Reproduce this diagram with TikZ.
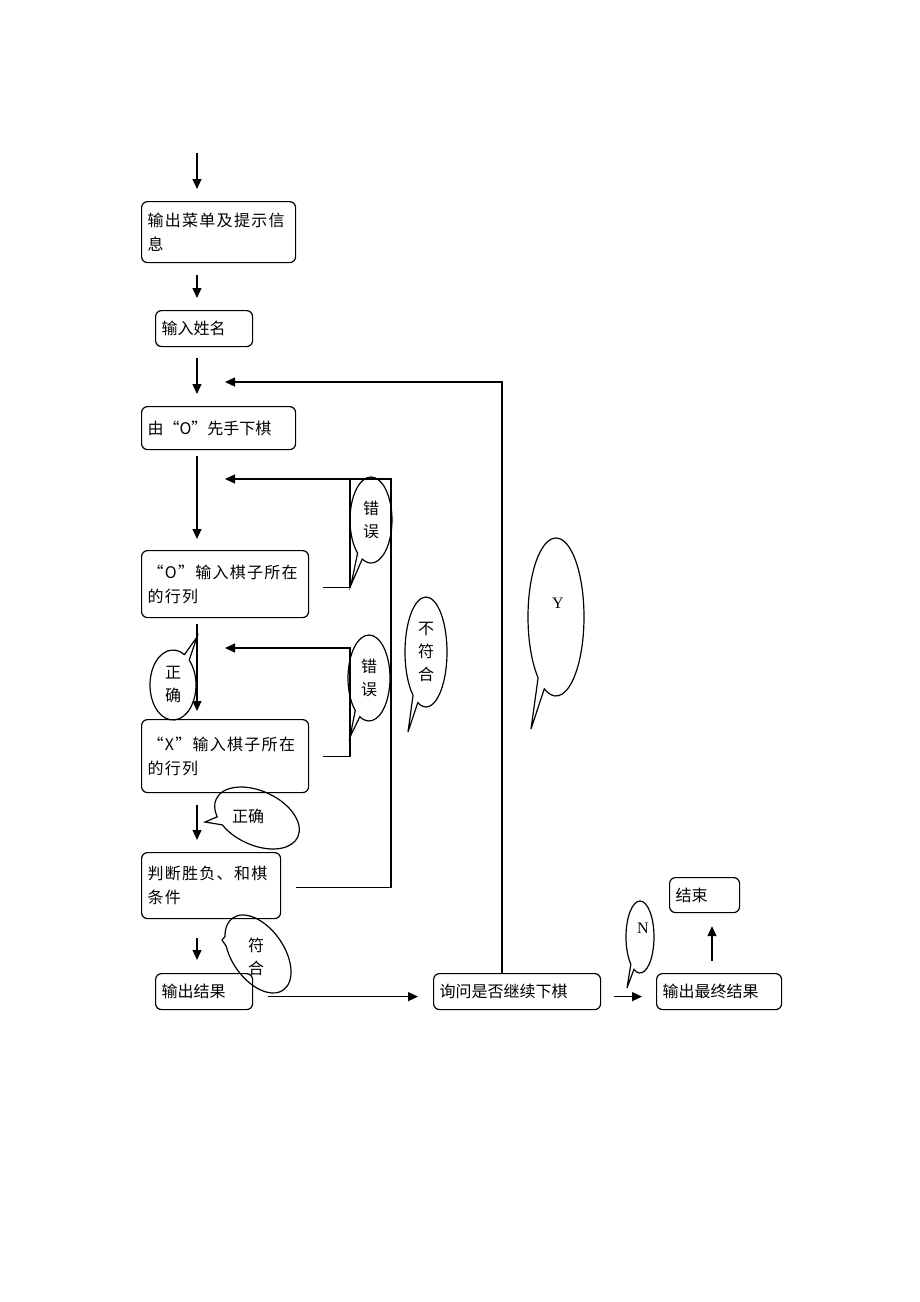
\documentclass[tikz,border=0pt]{standalone}
\usepackage{fontspec}
\setmainfont{Liberation Serif}
\newfontfamily\cjk{Noto Sans CJK SC}
\usetikzlibrary{arrows.meta, positioning, shapes.callouts, calc}

\begin{document}
\begin{tikzpicture}[
        x=1pt, y=-1pt,
        stage/.style={rectangle, draw, rounded corners=6pt, line width=1.2pt, align=left, inner xsep=6pt, inner ysep=0pt, anchor=north west, font=\cjk\fontsize{16}{24}\selectfont},
        wide/.style={font=\cjk\fontsize{16}{24}\selectfont\addfontfeature{LetterSpace=8}},
        bubble/.style={ellipse callout, draw, line width=1.2pt, inner sep=0pt, align=center, font=\cjk\fontsize{16}{23}\selectfont},
        word/.style={align=center, inner sep=0pt, font=\cjk\fontsize{16}{23}\selectfont},
        line/.style={draw, line width=1.2pt, -{Triangle[length=10pt, width=9pt]}},
        plain/.style={draw, line width=1.2pt}
    ]
        \useasboundingbox (0,0) rectangle (920,1302);

        % main column
        \node [stage, wide, text width=142pt, minimum height=61pt] (menu) at (141,201) {输出菜单及提示信\\息};
        \node [stage, text width=85pt, minimum height=36pt] (name) at (155,310) {输入姓名};
        \node [stage, text width=142pt, minimum height=43pt] (first) at (141,406) {由“O”先手下棋};
        \node [stage, wide, text width=155pt, minimum height=67pt] (oin) at (141,550) {“O”输入棋子所在\\的行列};
        \node [stage, wide, text width=155pt, minimum height=73pt] (xin) at (141,719) {“X”输入棋子所在\\的行列};
        \node [stage, wide, text width=127pt, minimum height=66pt] (judge) at (141,852) {判断胜负、和棋\\条件};
        \node [stage, text width=85pt, minimum height=36pt] (result) at (155,973) {输出结果};

        % bottom row
        \node [stage, text width=155pt, minimum height=36pt] (ask) at (433,973) {询问是否继续下棋};
        \node [stage, text width=113pt, minimum height=36pt] (final) at (656,973) {输出最终结果};
        \node [stage, text width=58pt, minimum height=35pt] (end) at (669,877) {结束};

        \coordinate (start) at (197,153);
        \coordinate (back1) at (225,382);
        \coordinate (back2) at (225,479);
        \coordinate (back3) at (225,648);

        \path [line] (start) -- ($(menu.north west)+(56,-12)$);
        \path [line] ($(menu.south west)+(56,12)$) -- ($(name.north west)+(42,-12)$);
        \path [line] ($(name.south west)+(42,11)$) -- ($(first.north west)+(56,-12)$);
        \path [line] ($(first.south west)+(56,6)$) -- ($(oin.north west)+(56,-11)$);
        \path [line] ($(oin.south west)+(56,6)$) -- ($(xin.north west)+(56,-8)$);
        \path [line] ($(xin.south west)+(56,12)$) -- ($(judge.north west)+(56,-12)$);
        \path [line] ($(judge.south west)+(56,19)$) -- ($(result.north west)+(42,-13)$);
        \path [line] ($(result.east)+(15,5)$) -- ($(ask.west)+(-15,5)$);
        \path [line] ($(ask.east)+(13,5)$) -- ($(final.west)+(-14,5)$);
        \path [line] ($(final.north west)+(56,-12)$) -- ($(end.south west)+(43,13)$);

        % loops back
        \path [line] ($(ask.north west)+(69,0)$) |- (back1);
        \path [line] ($(judge.east)+(15,2)$) -| ($(back2)+(166,0)$) -- (back2);
        \path [plain] ($(oin.east)+(14,3.5)$) -| ($(back2)+(125,0)$);
        \path [line] ($(xin.east)+(14,0.5)$) -| ($(back3)+(125,0)$) -- (back3);

        % callouts
        \node [bubble, minimum width=42pt, minimum height=86pt, callout absolute pointer={(351,585)}] (err1) at (371,520) {错\\误};
        \node [bubble, minimum width=42pt, minimum height=86pt, callout absolute pointer={(350,737)}] (err2) at (369,678) {错\\误};
        \node [bubble, minimum width=42pt, minimum height=110pt, callout absolute pointer={(408,732)}] (nofit) at (426,652) {不\\符\\合};
        \node [bubble, minimum width=56pt, minimum height=158pt, callout absolute pointer={(531,729)}] (yes) at (556,617) {};
        \node [word, font=\fontsize{16}{18}\selectfont] at ($(yes.center)+(2,-14)$) {Y};
        \node [bubble, minimum width=46pt, minimum height=70pt, callout absolute pointer={(197,637)}] (ok1) at (173,685) {正\\确};
        \node [bubble, rotate=-25, minimum width=90pt, minimum height=54pt, callout absolute pointer={(205,822)}] (ok2) at (257,818) {};
        \node [word] at ($(ok2.center)+(-9,-2)$) {正确};
        \node [bubble, rotate=-55, minimum width=88pt, minimum height=52pt, callout absolute pointer={(222,940)}] (fit) at (258,954) {};
        \node [word] at ($(fit.center)+(-2,3)$) {符\\合};
        \node [bubble, minimum width=28pt, minimum height=72pt, callout absolute pointer={(627,988)}] (no) at (640,937) {};
        \node [word, font=\fontsize{16}{18}\selectfont] at ($(no.center)+(3,-9)$) {N};
    \end{tikzpicture}
\end{document}
